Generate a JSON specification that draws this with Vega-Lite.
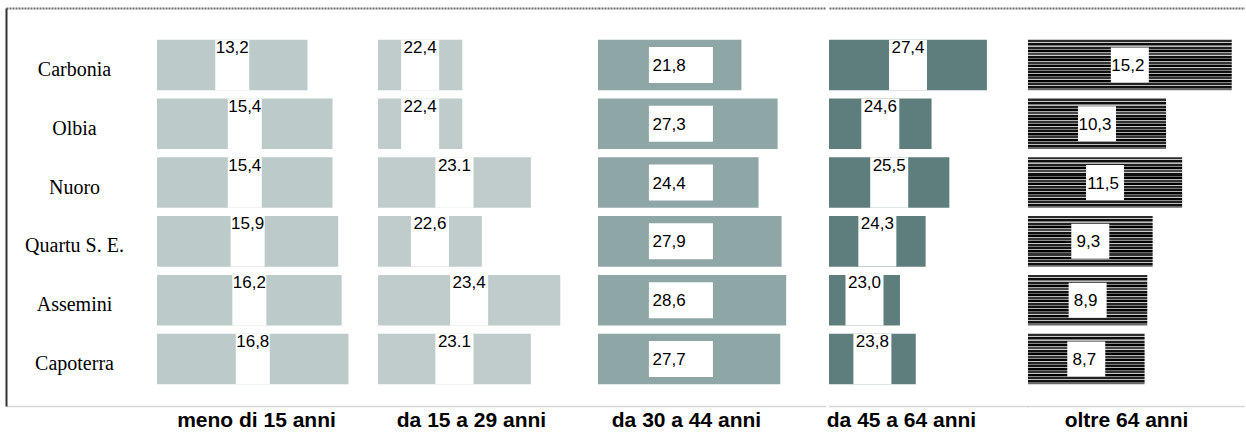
{
  "$schema": "https://vega.github.io/schema/vega-lite/v6.json",
  "background": "white",
  "padding": {"left": 6, "top": 8, "right": 0, "bottom": 0},
  "spacing": 0,
  "datasets": {
    "eta": [
      {"comune": "Carbonia", "fascia": "meno di 15 anni", "valore": 13.2, "etichetta": "13,2"},
      {"comune": "Olbia", "fascia": "meno di 15 anni", "valore": 15.4, "etichetta": "15,4"},
      {"comune": "Nuoro", "fascia": "meno di 15 anni", "valore": 15.4, "etichetta": "15,4"},
      {"comune": "Quartu S. E.", "fascia": "meno di 15 anni", "valore": 15.9, "etichetta": "15,9"},
      {"comune": "Assemini", "fascia": "meno di 15 anni", "valore": 16.2, "etichetta": "16,2"},
      {"comune": "Capoterra", "fascia": "meno di 15 anni", "valore": 16.8, "etichetta": "16,8"},
      {"comune": "Carbonia", "fascia": "da 15 a 29 anni", "valore": 22.4, "etichetta": "22,4"},
      {"comune": "Olbia", "fascia": "da 15 a 29 anni", "valore": 22.4, "etichetta": "22,4"},
      {"comune": "Nuoro", "fascia": "da 15 a 29 anni", "valore": 23.1, "etichetta": "23.1"},
      {"comune": "Quartu S. E.", "fascia": "da 15 a 29 anni", "valore": 22.6, "etichetta": "22,6"},
      {"comune": "Assemini", "fascia": "da 15 a 29 anni", "valore": 23.4, "etichetta": "23,4"},
      {"comune": "Capoterra", "fascia": "da 15 a 29 anni", "valore": 23.1, "etichetta": "23.1"},
      {"comune": "Carbonia", "fascia": "da 30 a 44 anni", "valore": 21.8, "etichetta": "21,8"},
      {"comune": "Olbia", "fascia": "da 30 a 44 anni", "valore": 27.3, "etichetta": "27,3"},
      {"comune": "Nuoro", "fascia": "da 30 a 44 anni", "valore": 24.4, "etichetta": "24,4"},
      {"comune": "Quartu S. E.", "fascia": "da 30 a 44 anni", "valore": 27.9, "etichetta": "27,9"},
      {"comune": "Assemini", "fascia": "da 30 a 44 anni", "valore": 28.6, "etichetta": "28,6"},
      {"comune": "Capoterra", "fascia": "da 30 a 44 anni", "valore": 27.7, "etichetta": "27,7"},
      {"comune": "Carbonia", "fascia": "da 45 a 64 anni", "valore": 27.4, "etichetta": "27,4"},
      {"comune": "Olbia", "fascia": "da 45 a 64 anni", "valore": 24.6, "etichetta": "24,6"},
      {"comune": "Nuoro", "fascia": "da 45 a 64 anni", "valore": 25.5, "etichetta": "25,5"},
      {"comune": "Quartu S. E.", "fascia": "da 45 a 64 anni", "valore": 24.3, "etichetta": "24,3"},
      {"comune": "Assemini", "fascia": "da 45 a 64 anni", "valore": 23.0, "etichetta": "23,0"},
      {"comune": "Capoterra", "fascia": "da 45 a 64 anni", "valore": 23.8, "etichetta": "23,8"},
      {"comune": "Carbonia", "fascia": "oltre 64 anni", "valore": 15.2, "etichetta": "15,2"},
      {"comune": "Olbia", "fascia": "oltre 64 anni", "valore": 10.3, "etichetta": "10,3"},
      {"comune": "Nuoro", "fascia": "oltre 64 anni", "valore": 11.5, "etichetta": "11,5"},
      {"comune": "Quartu S. E.", "fascia": "oltre 64 anni", "valore": 9.3, "etichetta": "9,3"},
      {"comune": "Assemini", "fascia": "oltre 64 anni", "valore": 8.9, "etichetta": "8,9"},
      {"comune": "Capoterra", "fascia": "oltre 64 anni", "valore": 8.7, "etichetta": "8,7"}
    ]
  },
  "data": {"name": "eta"},
  "config": {
    "view": {"stroke": null},
    "concat": {"spacing": 0},
    "axis": {"minExtent": 0, "grid": false, "ticks": false, "tickSize": 0, "labels": false},
    "text": {"font": "Liberation Sans", "fontSize": 17, "color": "black"}
  },
  "hconcat": [
    {
      "width": 372,
      "height": 398,
      "transform": [{"filter": "datum.fascia === 'meno di 15 anni'"}],
      "encoding": {
        "y": {
          "field": "comune", "type": "nominal",
          "sort": ["Carbonia", "Olbia", "Nuoro", "Quartu S. E.", "Assemini", "Capoterra"],
          "scale": {"paddingInner": 0.141, "paddingOuter": 0.455, "align": 0.593},
          "axis": {
            "title": null, "labels": true, "domain": true, "domainColor": "#333333", "domainWidth": 2,
            "labelFont": "Liberation Serif", "labelFontSize": 20, "labelColor": "black",
            "labelAlign": "center", "labelBaseline": "middle", "labelPadding": -68, "labelOffset": 5
          }
        }
      },
      "layer": [
        {
          "mark": {"type": "bar", "color": "#bdcaca"},
          "encoding": {
            "x": {
              "field": "valore", "type": "quantitative",
              "scale": {"domain": [-13.25, 19.39], "nice": false, "zero": true},
              "axis": {"orient": "bottom", "domain": true, "domainColor": "#b0b0b0", "domainWidth": 1.5, "domainDash": [1, 1],
                       "title": "meno di 15 anni", "titleFont": "Liberation Sans", "titleFontWeight": "bold", "titleFontSize": 21,
                       "titleColor": "black", "titleX": 250, "titleAlign": "center", "titlePadding": 3}
            },
            "x2": {"datum": 0}
          }
        },
        {
          "mark": {"type": "tick", "color": "white", "opacity": 1, "thickness": 34, "size": 50.5},
          "encoding": {
            "x": {
              "field": "valore", "type": "quantitative",
              "scale": {"domain": [-26.49, 38.77], "nice": false, "zero": false},
              "axis": {"orient": "top", "domain": true, "domainColor": "#6a6a6a", "domainWidth": 2, "domainDash": [2, 1], "title": null}
            }
          }
        },
        {
          "mark": {"type": "text", "baseline": "top", "align": "center", "dy": -25},
          "encoding": {
            "x": {"field": "valore", "type": "quantitative", "scale": {"domain": [-26.49, 38.77], "nice": false, "zero": false}, "axis": null},
            "text": {"field": "etichetta"}
          }
        }
      ],
      "resolve": {"scale": {"x": "independent"}}
    },
    {
      "width": 220,
      "height": 398,
      "transform": [{"filter": "datum.fascia === 'da 15 a 29 anni'"}],
      "encoding": {
        "y": {
          "field": "comune", "type": "nominal",
          "sort": ["Carbonia", "Olbia", "Nuoro", "Quartu S. E.", "Assemini", "Capoterra"],
          "scale": {"paddingInner": 0.141, "paddingOuter": 0.455, "align": 0.593},
          "axis": null
        }
      },
      "layer": [
        {
          "mark": {"type": "bar", "color": "#c0cccc", "clip": true},
          "encoding": {
            "x": {
              "field": "valore", "type": "quantitative",
              "scale": {"domain": [21.54, 23.785], "nice": false, "zero": false},
              "axis": {"orient": "bottom", "domain": true, "domainColor": "#b0b0b0", "domainWidth": 1.5, "domainDash": [1, 1],
                       "title": "da 15 a 29 anni", "titleFont": "Liberation Sans", "titleFontWeight": "bold", "titleFontSize": 21,
                       "titleColor": "black", "titleX": 93, "titleAlign": "center", "titlePadding": 3}
            },
            "x2": {"datum": 21.54}
          }
        },
        {
          "mark": {"type": "tick", "color": "white", "opacity": 1, "thickness": 38, "size": 50.5},
          "encoding": {
            "x": {
              "field": "valore", "type": "quantitative",
              "scale": {"domain": [21.54, 26.03], "nice": false, "zero": false},
              "axis": {"orient": "top", "domain": true, "domainColor": "#6a6a6a", "domainWidth": 2, "domainDash": [2, 1], "title": null}
            }
          }
        },
        {
          "mark": {"type": "text", "baseline": "top", "align": "center", "dy": -25},
          "encoding": {
            "x": {"field": "valore", "type": "quantitative", "scale": {"domain": [21.54, 26.03], "nice": false, "zero": false}, "axis": null},
            "text": {"field": "etichetta"}
          }
        }
      ],
      "resolve": {"scale": {"x": "independent"}}
    },
    {
      "width": 228,
      "height": 398,
      "transform": [{"filter": "datum.fascia === 'da 30 a 44 anni'"}],
      "encoding": {
        "y": {
          "field": "comune", "type": "nominal",
          "sort": ["Carbonia", "Olbia", "Nuoro", "Quartu S. E.", "Assemini", "Capoterra"],
          "scale": {"paddingInner": 0.141, "paddingOuter": 0.455, "align": 0.593},
          "axis": null
        }
      },
      "layer": [
        {
          "mark": {"type": "bar", "color": "#8fa6a6"},
          "encoding": {
            "x": {
              "field": "valore", "type": "quantitative",
              "scale": {"domain": [0, 34.65], "nice": false, "zero": false},
              "axis": {"orient": "bottom", "domain": true, "domainColor": "#b0b0b0", "domainWidth": 1.5, "domainDash": [1, 1],
                       "title": "da 30 a 44 anni", "titleFont": "Liberation Sans", "titleFontWeight": "bold", "titleFontSize": 21,
                       "titleColor": "black", "titleX": 88, "titleAlign": "center", "titlePadding": 3}
            },
            "x2": {"datum": 0}
          }
        },
        {
          "mark": {"type": "tick", "color": "white", "opacity": 1, "thickness": 64, "size": 36},
          "encoding": {
            "x": {
              "datum": 12.6, "type": "quantitative",
              "scale": {"domain": [0, 34.65], "nice": false, "zero": false},
              "axis": {"orient": "top", "domain": true, "domainColor": "#6a6a6a", "domainWidth": 2, "domainDash": [2, 1], "title": null}
            }
          }
        },
        {
          "mark": {"type": "text", "baseline": "middle", "align": "center", "dy": 1},
          "encoding": {
            "x": {"datum": 10.8, "type": "quantitative", "scale": {"domain": [0, 34.65], "nice": false, "zero": false}, "axis": null},
            "text": {"field": "etichetta"}
          }
        }
      ],
      "resolve": {"scale": {"x": "independent"}}
    },
    {
      "width": 199,
      "height": 398,
      "transform": [{"filter": "datum.fascia === 'da 45 a 64 anni'"}],
      "encoding": {
        "y": {
          "field": "comune", "type": "nominal",
          "sort": ["Carbonia", "Olbia", "Nuoro", "Quartu S. E.", "Assemini", "Capoterra"],
          "scale": {"paddingInner": 0.141, "paddingOuter": 0.455, "align": 0.593},
          "axis": null
        }
      },
      "layer": [
        {
          "mark": {"type": "bar", "color": "#5e7d7d", "clip": true},
          "encoding": {
            "x": {
              "field": "valore", "type": "quantitative",
              "scale": {"domain": [19.41, 29.48], "nice": false, "zero": false},
              "axis": {"orient": "bottom", "domain": true, "domainColor": "#b0b0b0", "domainWidth": 1.5, "domainDash": [1, 1],
                       "title": "da 45 a 64 anni", "titleFont": "Liberation Sans", "titleFontWeight": "bold", "titleFontSize": 21,
                       "titleColor": "black", "titleX": 72, "titleAlign": "center", "titlePadding": 3}
            },
            "x2": {"datum": 19.41}
          }
        },
        {
          "mark": {"type": "tick", "color": "white", "opacity": 1, "thickness": 38, "size": 50.5},
          "encoding": {
            "x": {
              "field": "valore", "type": "quantitative",
              "scale": {"domain": [19.41, 39.54], "nice": false, "zero": false},
              "axis": {"orient": "top", "domain": true, "domainColor": "#6a6a6a", "domainWidth": 2, "domainDash": [2, 1], "title": null}
            }
          }
        },
        {
          "mark": {"type": "text", "baseline": "top", "align": "center", "dy": -25},
          "encoding": {
            "x": {"field": "valore", "type": "quantitative", "scale": {"domain": [19.41, 39.54], "nice": false, "zero": false}, "axis": null},
            "text": {"field": "etichetta"}
          }
        }
      ],
      "resolve": {"scale": {"x": "independent"}}
    },
    {
      "width": 217,
      "height": 398,
      "transform": [{"filter": "datum.fascia === 'oltre 64 anni'"}],
      "encoding": {
        "y": {
          "field": "comune", "type": "nominal",
          "sort": ["Carbonia", "Olbia", "Nuoro", "Quartu S. E.", "Assemini", "Capoterra"],
          "scale": {"paddingInner": 0.141, "paddingOuter": 0.455, "align": 0.593},
          "axis": null
        }
      },
      "layer": [
        {
          "mark": {
            "type": "bar",
            "color": {
              "gradient": "linear", "x1": 0, "y1": 0, "x2": 0, "y2": 1,
              "stops": [
                {"offset": 0, "color": "#2b2b2b"}, {"offset": 0.04, "color": "#2b2b2b"},
                {"offset": 0.04, "color": "#c8c8c8"}, {"offset": 0.06, "color": "#c8c8c8"},
                {"offset": 0.06, "color": "#0d0d0d"}, {"offset": 0.1, "color": "#0d0d0d"},
                {"offset": 0.1, "color": "#7c7c7c"}, {"offset": 0.12, "color": "#7c7c7c"},
                {"offset": 0.12, "color": "#bcbcbc"}, {"offset": 0.14, "color": "#bcbcbc"},
                {"offset": 0.14, "color": "#1e1e1e"}, {"offset": 0.18, "color": "#1e1e1e"},
                {"offset": 0.18, "color": "#8a8a8a"}, {"offset": 0.2, "color": "#8a8a8a"},
                {"offset": 0.2, "color": "#000000"}, {"offset": 0.24, "color": "#000000"},
                {"offset": 0.24, "color": "#a8a8a8"}, {"offset": 0.26, "color": "#a8a8a8"},
                {"offset": 0.26, "color": "#474747"}, {"offset": 0.3, "color": "#474747"},
                {"offset": 0.3, "color": "#d0d0d0"}, {"offset": 0.32, "color": "#d0d0d0"},
                {"offset": 0.32, "color": "#101010"}, {"offset": 0.36, "color": "#101010"},
                {"offset": 0.36, "color": "#6a6a6a"}, {"offset": 0.38, "color": "#6a6a6a"},
                {"offset": 0.38, "color": "#000000"}, {"offset": 0.42, "color": "#000000"},
                {"offset": 0.42, "color": "#b8b8b8"}, {"offset": 0.44, "color": "#b8b8b8"},
                {"offset": 0.44, "color": "#333333"}, {"offset": 0.48, "color": "#333333"},
                {"offset": 0.48, "color": "#8e8e8e"}, {"offset": 0.5, "color": "#8e8e8e"},
                {"offset": 0.5, "color": "#000000"}, {"offset": 0.54, "color": "#000000"},
                {"offset": 0.54, "color": "#c8c8c8"}, {"offset": 0.56, "color": "#c8c8c8"},
                {"offset": 0.56, "color": "#222222"}, {"offset": 0.6, "color": "#222222"},
                {"offset": 0.6, "color": "#7a7a7a"}, {"offset": 0.62, "color": "#7a7a7a"},
                {"offset": 0.62, "color": "#111111"}, {"offset": 0.66, "color": "#111111"},
                {"offset": 0.66, "color": "#b4b4b4"}, {"offset": 0.68, "color": "#b4b4b4"},
                {"offset": 0.68, "color": "#000000"}, {"offset": 0.72, "color": "#000000"},
                {"offset": 0.72, "color": "#6b6b6b"}, {"offset": 0.74, "color": "#6b6b6b"},
                {"offset": 0.74, "color": "#333333"}, {"offset": 0.78, "color": "#333333"},
                {"offset": 0.78, "color": "#c8c8c8"}, {"offset": 0.8, "color": "#c8c8c8"},
                {"offset": 0.8, "color": "#000000"}, {"offset": 0.84, "color": "#000000"},
                {"offset": 0.84, "color": "#8c8c8c"}, {"offset": 0.86, "color": "#8c8c8c"},
                {"offset": 0.86, "color": "#222222"}, {"offset": 0.9, "color": "#222222"},
                {"offset": 0.9, "color": "#c0c0c0"}, {"offset": 0.92, "color": "#c0c0c0"},
                {"offset": 0.92, "color": "#111111"}, {"offset": 0.96, "color": "#111111"},
                {"offset": 0.96, "color": "#6a6a6a"}, {"offset": 1, "color": "#6a6a6a"}
              ]
            }
          },
          "encoding": {
            "x": {
              "field": "valore", "type": "quantitative",
              "scale": {"domain": [0, 16.19], "nice": false, "zero": false},
              "axis": {"orient": "bottom", "domain": true, "domainColor": "#b0b0b0", "domainWidth": 1.5, "domainDash": [1, 1],
                       "title": "oltre 64 anni", "titleFont": "Liberation Sans", "titleFontWeight": "bold", "titleFontSize": 21,
                       "titleColor": "black", "titleX": 98, "titleAlign": "center", "titlePadding": 3}
            },
            "x2": {"datum": 0}
          }
        },
        {
          "mark": {"type": "tick", "color": "white", "opacity": 1, "thickness": 38, "size": 35},
          "encoding": {
            "x": {
              "field": "valore", "type": "quantitative",
              "scale": {"domain": [0, 32.39], "nice": false, "zero": false},
              "axis": {"orient": "top", "domain": true, "domainColor": "#6a6a6a", "domainWidth": 2, "domainDash": [2, 1], "title": null}
            }
          }
        },
        {
          "mark": {"type": "text", "baseline": "middle", "align": "center", "dx": -2, "dy": 1},
          "encoding": {
            "x": {"field": "valore", "type": "quantitative", "scale": {"domain": [0, 32.39], "nice": false, "zero": false}, "axis": null},
            "text": {"field": "etichetta"}
          }
        }
      ],
      "resolve": {"scale": {"x": "independent"}}
    }
  ]
}
